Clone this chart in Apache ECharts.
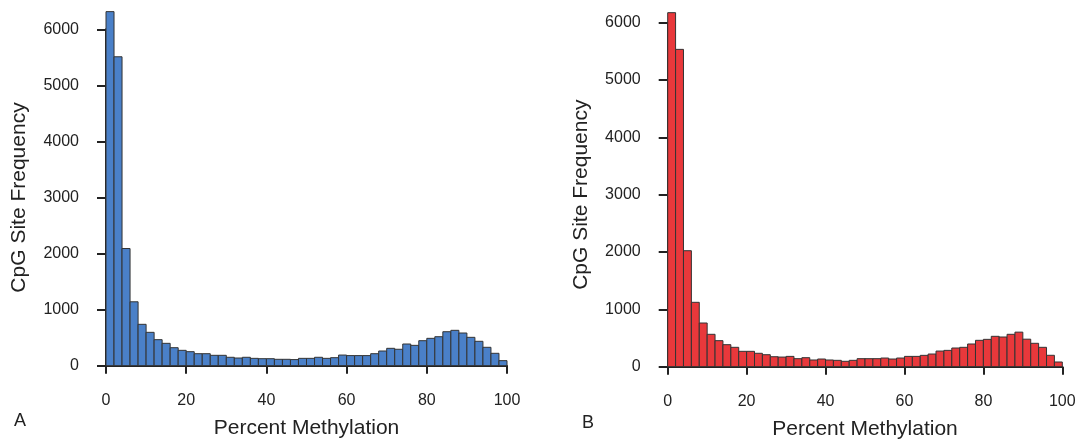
<!DOCTYPE html>
<html>
<head>
<meta charset="utf-8">
<script src="https://cdn.jsdelivr.net/npm/echarts@6/dist/echarts.min.js"></script>
<style>
html,body{margin:0;padding:0;background:#fff;}
#chart{width:1091px;height:439px;}
</style>
</head>
<body>
<div id="chart"></div>
<script>
// Bin edges (percent methylation), bin width 2
const binStarts = [0,2,4,6,8,10,12,14,16,18,20,22,24,26,28,30,32,34,36,38,40,42,44,46,48,50,52,54,56,58,60,62,64,66,68,70,72,74,76,78,80,82,84,86,88,90,92,94,96,98];
const binWidth = 2;
// Panel A counts
const countsA = [6315,5510,2090,1140,738,595,464,399,321,274,250,214,214,185,185,150,137,150,131,125,125,114,114,109,131,131,150,131,143,190,180,180,180,214,262,310,293,387,363,446,488,517,606,631,583,506,435,328,221,90];
// Panel B counts
const countsB = [6175,5535,2023,1123,762,565,454,384,338,268,268,234,209,174,168,180,140,157,117,134,117,111,94,111,140,140,140,151,134,151,180,180,198,221,273,285,326,338,396,460,477,530,518,565,603,480,408,338,199,82];
const xTicks = [0,20,40,60,80,100];
const yTicks = [0,1000,2000,3000,4000,5000,6000];
const xTitle = 'Percent Methylation';
const yTitle = 'CpG Site Frequency';
const panelLabels = ['A','B'];

const FONT = '"Liberation Sans", Arial, Helvetica, sans-serif';
const chart = echarts.init(document.getElementById('chart'), null, {renderer:'canvas'});

function toData(counts){
  return counts.map((c,i)=>[binStarts[i], binStarts[i]+binWidth, c]);
}
function makeRender(fill){
  return function(params, api){
    const p0 = api.coord([api.value(0), 0]);
    const p1 = api.coord([api.value(1), api.value(2)]);
    return {
      type:'rect',
      shape:{x:p0[0], y:p1[1], width:p1[0]-p0[0], height:p0[1]-p1[1]},
      style:{fill:fill, stroke:'#333', lineWidth:1}
    };
  };
}
const grids = [
  {left:106, right:584, top:29.3, bottom:73.3, containLabel:false, outerBoundsMode:'none'},
  {left:667.7, right:28.7, top:22.7, bottom:72.3, containLabel:false, outerBoundsMode:'none'}
];
function xAx(i){
  return {
    type:'value', gridIndex:i, min:0, max:100, interval:20,
    offset:13.5,
    axisLine:{show:true, lineStyle:{color:'#222', width:2}},
    axisTick:{show:true, length:8, lineStyle:{color:'#222', width:2}},
    splitLine:{show:false},
    axisLabel:{color:'#222', fontSize:16, fontFamily:FONT, margin:13, formatter:(v)=>String(v)},
    name:xTitle, nameLocation:'middle', nameGap:39,
    nameTextStyle:{color:'#222', fontSize:21, fontFamily:FONT}
  };
}
function yAx(i){
  return {
    type:'value', gridIndex:i, min:0, max:6000, interval:1000,
    offset:16,
    axisLine:{show:true, lineStyle:{color:'#222', width:2}},
    axisTick:{show:true, length:9, lineStyle:{color:'#222', width:2}},
    splitLine:{show:false},
    axisLabel:{color:'#222', fontSize:16, fontFamily:FONT, margin:11, formatter:(v)=>String(v)},
    name:yTitle, nameLocation:'middle', nameGap:60,
    nameTextStyle:{color:'#222', fontSize:21, fontFamily:FONT}
  };
}
chart.setOption({
  animation:false,
  backgroundColor:'#fff',
  grid: grids,
  xAxis:[xAx(0), xAx(1)],
  yAxis:[yAx(0), yAx(1)],
  graphic:[
    {type:'text', left:14, top:412, style:{text:panelLabels[0], fontSize:18, fontFamily:FONT, fill:'#222'}},
    {type:'text', left:582, top:414, style:{text:panelLabels[1], fontSize:18, fontFamily:FONT, fill:'#222'}}
  ],
  series:[
    {type:'custom', xAxisIndex:0, yAxisIndex:0, renderItem:makeRender('#4a80c8'), data:toData(countsA), encode:{x:[0,1], y:2}, clip:false},
    {type:'custom', xAxisIndex:1, yAxisIndex:1, renderItem:makeRender('#e8383b'), data:toData(countsB), encode:{x:[0,1], y:2}, clip:false}
  ]
});
</script>
</body>
</html>
